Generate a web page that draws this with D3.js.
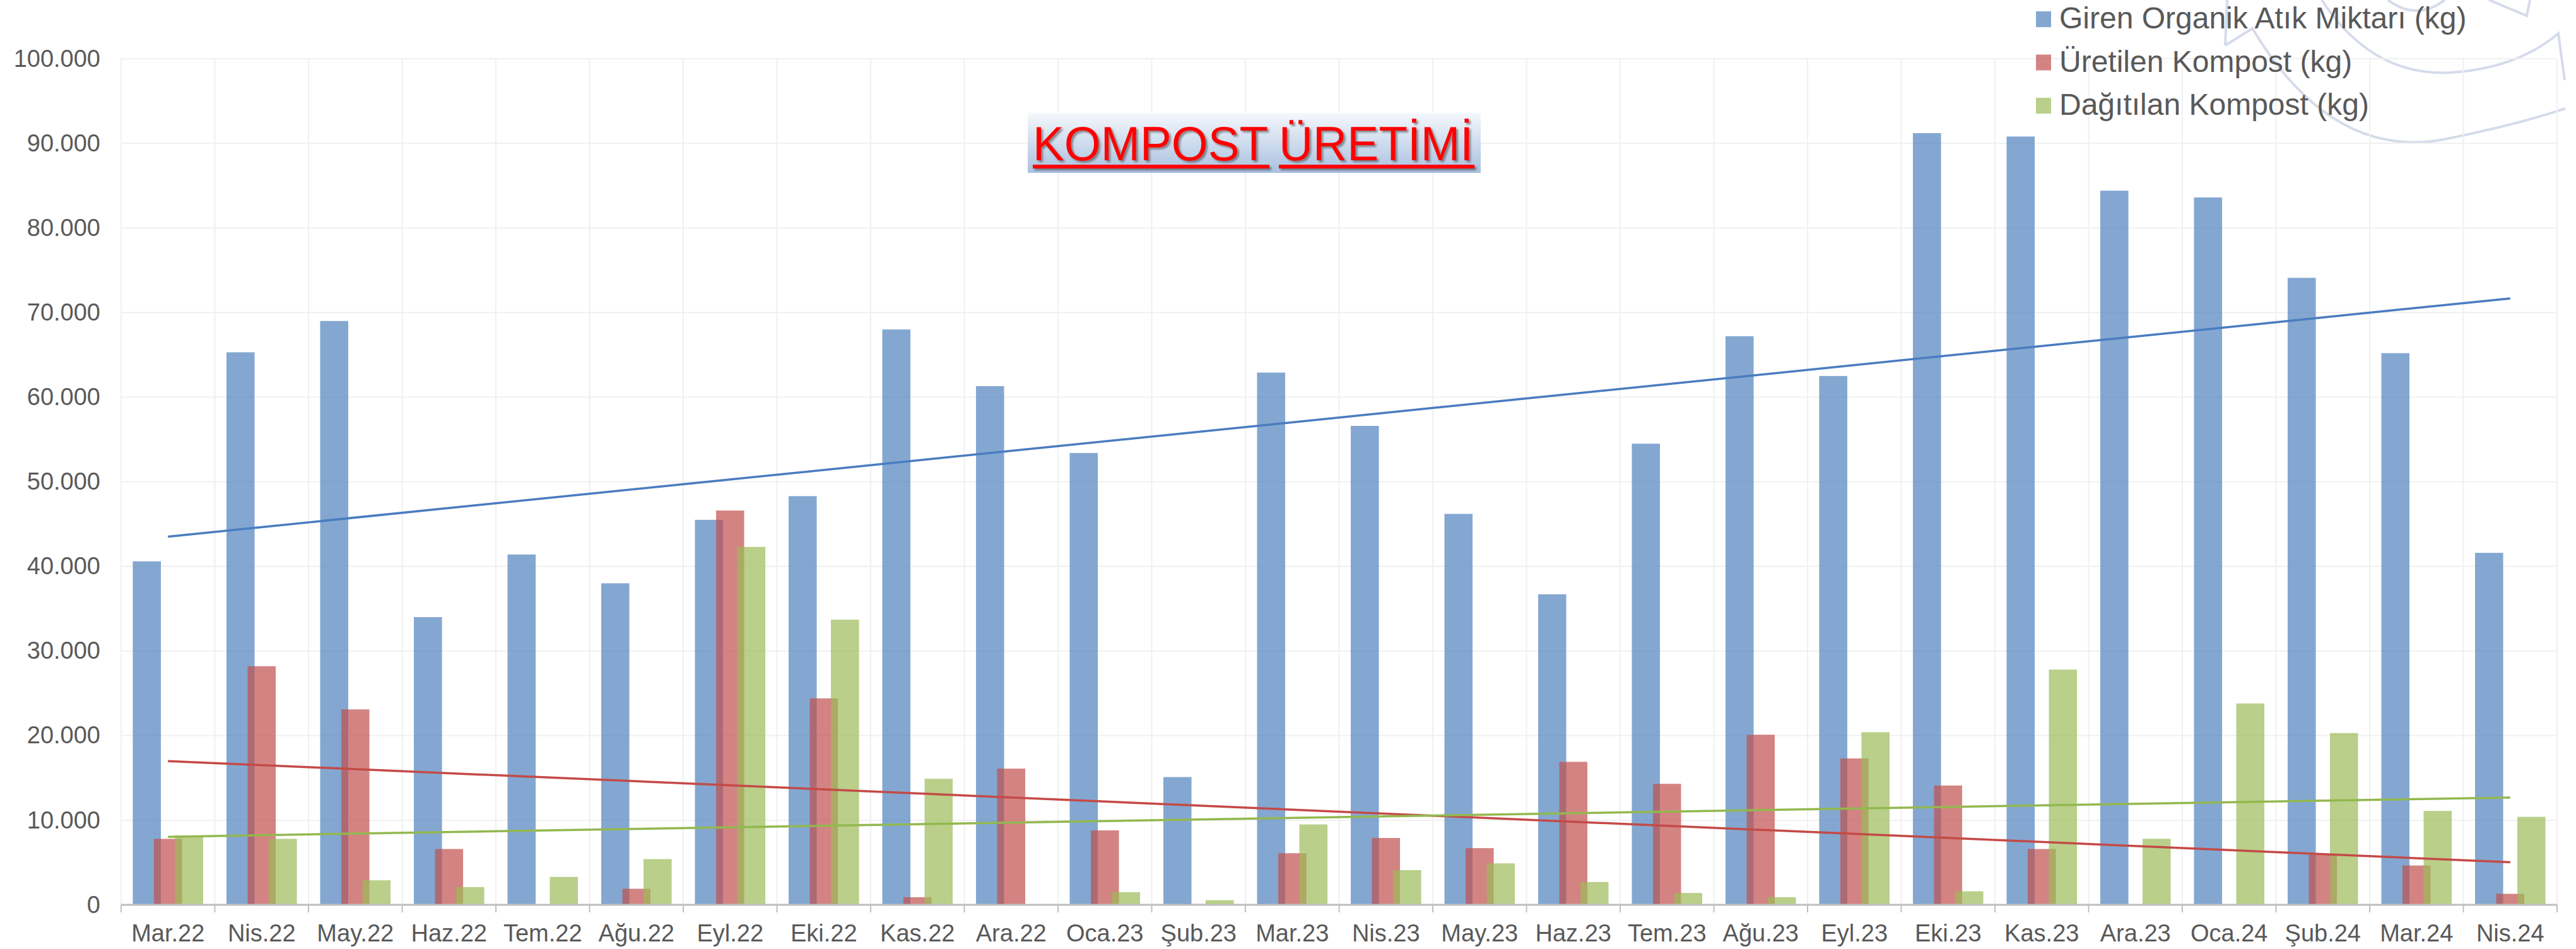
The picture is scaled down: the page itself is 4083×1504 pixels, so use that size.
<!DOCTYPE html>
<html>
<head>
<meta charset="utf-8">
<script src="https://cdn.jsdelivr.net/npm/d3@7"></script>
<style>
  body { margin: 0; background: #fff; }
  svg { display: block; font-family: "Liberation Sans", Arial, sans-serif; }
</style>
</head>
<body>
<div id="chart"></div>
<script>
// months on the x axis
var months = ["Mar.22", "Nis.22", "May.22", "Haz.22", "Tem.22", "Ağu.22", "Eyl.22", "Eki.22",
  "Kas.22", "Ara.22", "Oca.23", "Şub.23", "Mar.23", "Nis.23", "May.23", "Haz.23", "Tem.23",
  "Ağu.23", "Eyl.23", "Eki.23", "Kas.23", "Ara.23", "Oca.24", "Şub.24", "Mar.24", "Nis.24"];

// kg
var giren = [40600, 65300, 69000, 34000, 41400, 38000, 45500, 48300, 68000, 61300, 53400, 15100,
  62900, 56600, 46200, 36700, 54500, 67200, 62500, 91200, 90800, 84400, 83600, 74100, 65200, 41600];
var uretilen = [7800, 28200, 23100, 6600, 0, 1900, 46600, 24400, 900, 16100, 8800, 100,
  6100, 7900, 6700, 16900, 14300, 20100, 17300, 14100, 6600, 0, 0, 5900, 4650, 1300];
var dagitilan = [8200, 7800, 2900, 2100, 3300, 5400, 42300, 33700, 14900, 50, 1500, 550,
  9500, 4100, 4900, 2700, 1400, 900, 20400, 1600, 27800, 7800, 23800, 20300, 11100, 10400];

var seriesNames = ["Giren Organik Atık Miktarı (kg)", "Üretilen Kompost (kg)", "Dağıtılan Kompost (kg)"];
var yTicks = [0, 10000, 20000, 30000, 40000, 50000, 60000, 70000, 80000, 90000, 100000];

var barColors = ["#4f81bd", "#c0504d", "#9bbb59"];
var trendColors = ["#4a7cc0", "#c44a47", "#93b84f"];
var series = [giren, uretilen, dagitilan];

var W = 4083, H = 1504;
var plotL = 192, plotR = 4053, plotT = 93, plotB = 1434;

var svg = d3.select("#chart").append("svg")
  .attr("width", W)
  .attr("height", H);

svg.append("rect").attr("width", W).attr("height", H).attr("fill", "#fff");

var defs = svg.append("defs");
var grad = defs.append("linearGradient").attr("id", "titleGrad")
  .attr("x1", 0).attr("y1", 0).attr("x2", 0).attr("y2", 1);
grad.append("stop").attr("offset", "0%").attr("stop-color", "#f5f8fc");
grad.append("stop").attr("offset", "100%").attr("stop-color", "#a9c0df");
defs.append("filter").attr("id", "shadow")
  .attr("x", "-5%").attr("y", "-20%").attr("width", "110%").attr("height", "140%")
  .append("feDropShadow")
  .attr("dx", 3).attr("dy", 3).attr("stdDeviation", 1.5)
  .attr("flood-color", "#404040").attr("flood-opacity", 0.55);

var x = d3.scaleBand().domain(months).range([plotL, plotR]).padding(0);
var y = d3.scaleLinear().domain([0, 100000]).range([plotB, plotT]);

var bw = x.bandwidth();
var barW = bw * 0.30;
var step = bw * 0.2256;
var groupOff = (bw - (barW + 2 * step)) / 2;

// watermark arcs in the top right corner
var wm = svg.append("g").attr("fill", "none").attr("stroke", "#d6dbeb").attr("stroke-width", 4);
wm.append("path").attr("d", "M3527,72 L3530,0 M3527,72 L3570,45 Q3700,262 3888,218 Q3995,196 4066,172");
wm.append("path").attr("d", "M3680,0 Q3760,122 3885,115 Q3990,108 4055,53 L4065,127");
wm.append("path").attr("d", "M3785,0 Q3830,34 3875,0");
wm.append("path").attr("d", "M3945,0 L4005,25 L4010,0");

// grid
var grid = svg.append("g").attr("stroke", "#f0f0f0").attr("stroke-width", 2);
grid.selectAll("line.h").data(yTicks.slice(1)).enter().append("line")
  .attr("x1", plotL).attr("x2", plotR)
  .attr("y1", function(d) { return y(d); }).attr("y2", function(d) { return y(d); });
var bounds = months.map(function(m) { return x(m); }).concat([plotR]);
grid.selectAll("line.v").data(bounds).enter().append("line")
  .attr("x1", function(d) { return d; }).attr("x2", function(d) { return d; })
  .attr("y1", y(100000)).attr("y2", y(0));

// bars
series.forEach(function(vals, si) {
  svg.append("g").selectAll("rect").data(vals).enter().append("rect")
    .attr("x", function(d, i) { return x(months[i]) + groupOff + si * step; })
    .attr("width", barW)
    .attr("y", function(d) { return y(d); })
    .attr("height", function(d) { return y(0) - y(d); })
    .attr("fill", barColors[si])
    .attr("fill-opacity", 0.7);
});

// linear trend lines (least squares on month index)
series.forEach(function(vals, si) {
  var n = vals.length;
  var mx = d3.mean(vals, function(d, i) { return i; });
  var my = d3.mean(vals);
  var sxy = d3.sum(vals, function(d, i) { return (i - mx) * (d - my); });
  var sxx = d3.sum(vals, function(d, i) { return (i - mx) * (i - mx); });
  var b = sxy / sxx, a = my - b * mx;
  var pts = [0, n - 1].map(function(i) { return [x(months[i]) + bw / 2, y(a + b * i)]; });
  svg.append("path")
    .attr("d", d3.line()(pts))
    .attr("stroke", trendColors[si])
    .attr("stroke-width", 3.5)
    .attr("fill", "none");
});

// x axis
svg.append("line")
  .attr("x1", plotL).attr("x2", plotR).attr("y1", plotB).attr("y2", plotB)
  .attr("stroke", "#bfbfbf").attr("stroke-width", 3);
svg.append("g").selectAll("line").data(bounds).enter().append("line")
  .attr("x1", function(d) { return d; }).attr("x2", function(d) { return d; })
  .attr("y1", plotB).attr("y2", plotB + 12)
  .attr("stroke", "#bfbfbf").attr("stroke-width", 2);

var xAxis = svg.append("g")
  .attr("transform", "translate(0," + plotB + ")")
  .call(d3.axisBottom(x).tickSize(0).tickPadding(31));
xAxis.select(".domain").remove();
xAxis.selectAll("text")
  .style("font-size", "38px")
  .style("font-family", "'Liberation Sans', Arial, sans-serif")
  .attr("fill", "#595959");

// y axis
var tr = d3.formatLocale({ decimal: ",", thousands: ".", grouping: [3], currency: ["", ""] });
var yAxis = svg.append("g")
  .attr("transform", "translate(" + plotL + ",0)")
  .call(d3.axisLeft(y).tickValues(yTicks).tickSize(0).tickPadding(33).tickFormat(tr.format(",")));
yAxis.select(".domain").remove();
yAxis.selectAll("text")
  .style("font-size", "38px")
  .style("font-family", "'Liberation Sans', Arial, sans-serif")
  .attr("fill", "#595959");

// title
svg.append("rect")
  .attr("x", 1629).attr("y", 179).attr("width", 718).attr("height", 95)
  .attr("fill", "url(#titleGrad)");
var tg = svg.append("g").attr("filter", "url(#shadow)").attr("fill", "#ff0000");
[["KOMPOST", 1637, 375], ["ÜRETİMİ", 2027, 310]].forEach(function(w) {
  tg.append("text")
    .attr("x", w[1]).attr("y", 254)
    .attr("textLength", w[2] - 2).attr("lengthAdjust", "spacingAndGlyphs")
    .style("font-size", "76px")
    .text(w[0]);
  tg.append("rect")
    .attr("x", w[1]).attr("y", 261).attr("width", w[2]).attr("height", 6);
});

// legend
var leg = svg.append("g").attr("transform", "translate(3227,18)");
seriesNames.forEach(function(name, i) {
  leg.append("rect")
    .attr("x", 0).attr("y", i * 68.5).attr("width", 24).attr("height", 25)
    .attr("fill", barColors[i]).attr("fill-opacity", 0.7);
  leg.append("text")
    .attr("x", 37).attr("y", i * 68.5 + 27)
    .attr("fill", "#595959")
    .style("font-size", "48px")
    .text(name);
});
</script>
</body>
</html>
